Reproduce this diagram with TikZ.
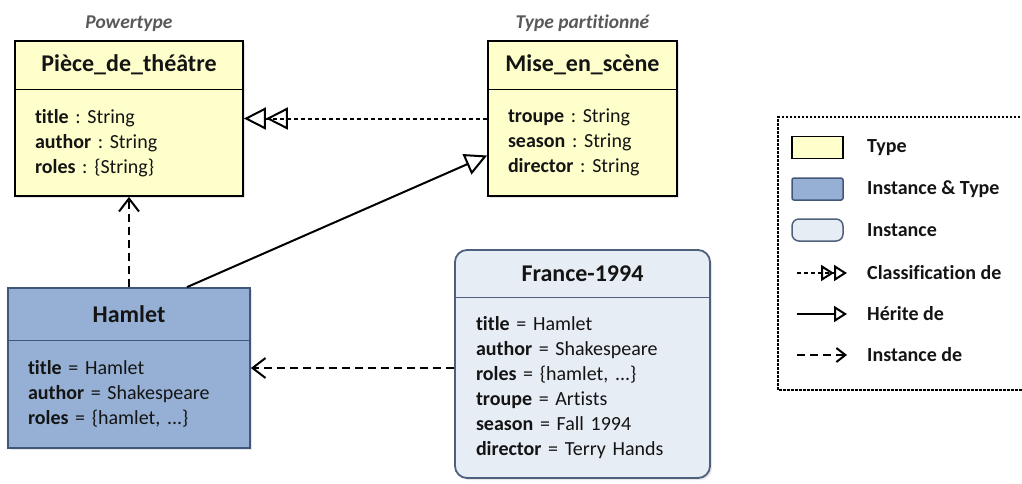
\documentclass[tikz,border=0pt]{standalone}
\usepackage{fontspec}
\setmainfont{Carlito}[Ligatures=NoCommon]
\frenchspacing
\usetikzlibrary{arrows.meta,positioning,shadows}
\definecolor{typefill}{RGB}{255,255,204}
\definecolor{insttypefill}{RGB}{149,176,212}
\definecolor{insttypeline}{RGB}{66,86,120}
\definecolor{instfill}{RGB}{231,237,245}
\definecolor{instline}{RGB}{78,96,124}
\definecolor{kindgray}{RGB}{89,89,89}
\definecolor{inkcolor}{RGB}{20,20,20}

\tikzset{
  umlbox/.style={draw,line width=1.8pt,inner sep=0pt,
    drop shadow={opacity=0.2,shadow xshift=2pt,shadow yshift=-2pt}},
  typebox/.style={umlbox,fill=typefill},
  insttypebox/.style={umlbox,draw=insttypeline,fill=insttypefill},
  instbox/.style={umlbox,draw=instline,fill=instfill,rounded corners=12pt},
  headtext/.style={inner sep=0pt,text=inkcolor,font=\fontsize{24}{29}\selectfont\bfseries},
  bodytext/.style={inner xsep=20pt,inner ysep=0pt,align=left,text=inkcolor,
    font=\fontsize{20}{25}\selectfont},
  kindlabel/.style={font=\fontsize{19.5}{23}\selectfont\bfseries\itshape,text=kindgray},
  legendtext/.style={anchor=west,inner sep=0pt,text=inkcolor,font=\fontsize{20}{24}\selectfont\bfseries},
  swatch/.style={line width=1.5pt,minimum width=51pt,minimum height=22pt,inner sep=0pt},
  classif/.style={line width=2pt,dash pattern=on 4.5pt off 2.5pt,
    -{Triangle[open,length=22pt,width=22pt]Triangle[open,length=22pt,width=22pt]}},
  inherit/.style={line width=2pt,-{Triangle[open,length=22pt,width=22pt]}},
  instof/.style={line width=2pt,dash pattern=on 8pt off 5pt,
    -{Straight Barb[length=13pt,width=20pt]}},
  classifsmall/.style={line width=2pt,dash pattern=on 4pt off 3pt,
    -{Triangle[open,length=13pt,width=16pt]Triangle[open,length=13pt,width=16pt]}},
  inheritsmall/.style={line width=2pt,-{Triangle[open,length=13pt,width=16pt]}},
  instofsmall/.style={line width=2pt,dash pattern=on 8pt off 5pt,
    -{Straight Barb[length=9pt,width=14pt]}}
}

\begin{document}
\begin{tikzpicture}[x=1pt,y=-1pt]
  \useasboundingbox (0,0) rectangle (1022,483);

  % Piece de theatre (powertype)
  \node[typebox,minimum width=228pt,minimum height=155pt] (piece) at (129,118.5) {};
  \node[headtext,minimum height=49pt,below=0pt of piece.north] (piecehead) {Pièce\_de\_théâtre};
  \draw[line width=1.8pt] (piecehead.south -| piece.west) -- (piecehead.south -| piece.east);
  \node[bodytext,text width=188pt,minimum height=106pt,below=0pt of piecehead] (piecebody)
    {\textbf{title} : String\\ \textbf{author} : String\\ \textbf{roles} : \{String\}};
  \node[kindlabel,above=5pt of piece.north] (piecekind) {Powertype};

  % Mise en scene (type partitionne)
  \node[typebox,minimum width=189pt,minimum height=155pt] (mise) at (582.5,118.5) {};
  \node[headtext,minimum height=49pt,below=0pt of mise.north] (misehead) {Mise\_en\_scène};
  \draw[line width=1.8pt] (misehead.south -| mise.west) -- (misehead.south -| mise.east);
  \node[bodytext,text width=149pt,minimum height=106pt,below=0pt of misehead] (misebody)
    {\textbf{troupe} : String\\ \textbf{season} : String\\ \textbf{director} : String};
  \node[kindlabel,above=5pt of mise.north] (misekind) {Type partitionné};

  % Hamlet
  \node[insttypebox,minimum width=242pt,minimum height=160pt] (hamlet) at (129,368) {};
  \node[headtext,minimum height=53pt,below=0pt of hamlet.north] (hamlethead) {Hamlet};
  \draw[line width=1.8pt,insttypeline] (hamlethead.south -| hamlet.west) -- (hamlethead.south -| hamlet.east);
  \node[bodytext,text width=202pt,minimum height=107pt,below=0pt of hamlethead] (hamletbody)
    {\textbf{title} = Hamlet\\ \textbf{author} = Shakespeare\\ \textbf{roles} = \{hamlet, ...\}};

  % France-1994
  \node[instbox,minimum width=255pt,minimum height=228pt] (france) at (582.5,364) {};
  \node[headtext,minimum height=48pt,below=0pt of france.north] (francehead) {France-1994};
  \draw[line width=1.8pt,instline] (francehead.south -| france.west) -- (francehead.south -| france.east);
  \node[bodytext,text width=213pt,minimum height=180pt,below=0pt of francehead] (francebody)
    {\textbf{title} = Hamlet\\ \textbf{author} = Shakespeare\\ \textbf{roles} = \{hamlet, ...\}\\
     \textbf{troupe} = Artists\\ \textbf{season} = Fall 1994\\ \textbf{director} = Terry Hands};

  % connectors
  \draw[classif] (mise.west) -- (piece.east);
  \draw[inherit] ([xshift=58pt]hamlet.north) -- ([yshift=-37pt]mise.west);
  \draw[instof] (hamlet.north) -- (piece.south);
  \draw[instof] (france.west |- hamlet.east) -- (hamlet.east);

  % legend
  \draw[line width=1.2pt,dash pattern=on 2.5pt off 1.5pt] (1024,117) -| (778,390) -- (1024,390);
  \node[swatch,draw,fill=typefill] (swtype) at (817.5,147.5) {};
  \node[swatch,draw=insttypeline,fill=insttypefill,rounded corners=2pt] (swinsttype) at (817.5,189) {};
  \node[swatch,draw=instline,fill=instfill,rounded corners=7pt] (swinst) at (817.5,230) {};
  \node[legendtext] (lgtype) at (867,147.5) {Type};
  \node[legendtext] (lginsttype) at (867,189) {Instance \& Type};
  \node[legendtext] (lginst) at (867,230) {Instance};
  \node[legendtext] (lgclassif) at (867,273) {Classification de};
  \node[legendtext] (lginherit) at (867,314) {Hérite de};
  \node[legendtext] (lginstof) at (867,355) {Instance de};
  \coordinate (clsstart) at (797,273);
  \coordinate (clsend) at (847,273);
  \coordinate (inhstart) at (797,314);
  \coordinate (inhend) at (847,314);
  \coordinate (insstart) at (797,355);
  \coordinate (insend) at (847,355);
  \draw[classifsmall] (clsstart) -- (clsend);
  \draw[inheritsmall] (inhstart) -- (inhend);
  \draw[instofsmall] (insstart) -- (insend);
\end{tikzpicture}
\end{document}
